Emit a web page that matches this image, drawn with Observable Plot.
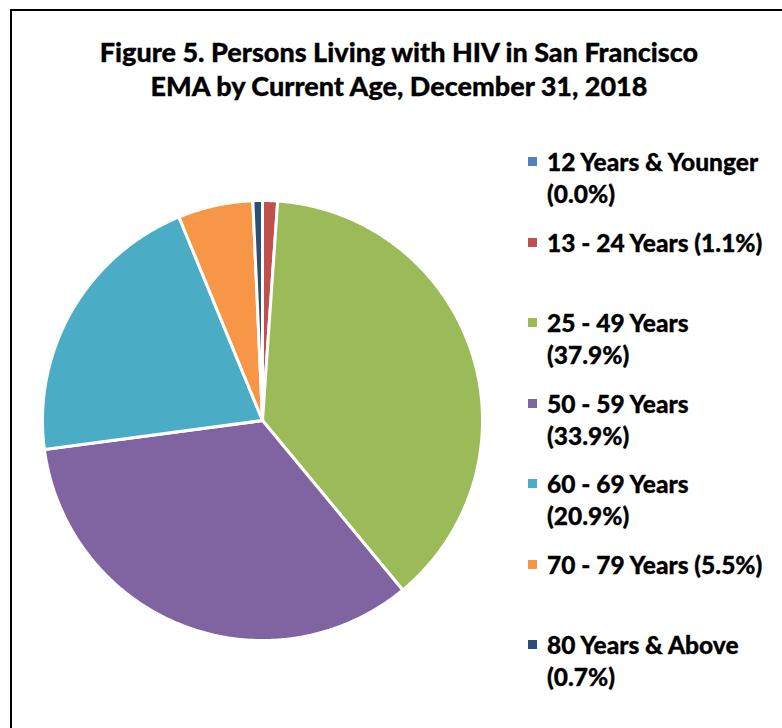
<!DOCTYPE html>
<html>
<head>
<meta charset="utf-8">
<script src="https://cdn.jsdelivr.net/npm/d3@7"></script>
<script src="https://cdn.jsdelivr.net/npm/@observablehq/plot@0.6"></script>
<style>
  body { margin: 0; background: #fff; }
  #wrap { position: relative; width: 782px; height: 728px; overflow: hidden; background: #fff; font-family: Lato, "Open Sans", sans-serif; color: #000; }
  #chart { position: absolute; left: 0; top: 0; }
  #frame { position: absolute; left: 10px; top: 9px; width: 820px; height: 820px; border: 2px solid #000; box-sizing: border-box; pointer-events: none; }
  #title { position: absolute; left: 0; top: 35px; width: 798px; text-align: center; font-weight: 900; font-size: 27px; line-height: 34px; -webkit-text-stroke: 0.3px #000; }
  #legend { position: absolute; left: 528px; top: 146px; }
  .item { position: relative; height: 80.5px; padding-left: 19px; font-weight: 900; font-size: 24.5px; line-height: 32px; white-space: nowrap; -webkit-text-stroke: 0.3px #000; }
  .sw { position: absolute; left: 0; top: 11px; width: 9px; height: 9px; }
</style>
</head>
<body>
<div id="wrap">
  <div id="chart"></div>
  <div id="title">Figure 5. Persons Living with HIV in San Francisco<br>EMA by Current Age, December 31, 2018</div>
  <div id="legend"></div>
  <div id="frame"></div>
</div>
<script>
const categories = ["12 Years & Younger", "13 - 24 Years", "25 - 49 Years", "50 - 59 Years", "60 - 69 Years", "70 - 79 Years", "80 Years & Above"];
const values = [0.0, 1.1, 37.9, 33.9, 20.9, 5.5, 0.7];
const legendLabels = [["12 Years & Younger", "(0.0%)"], ["13 - 24 Years (1.1%)"], ["25 - 49 Years", "(37.9%)"], ["50 - 59 Years", "(33.9%)"], ["60 - 69 Years", "(20.9%)"], ["70 - 79 Years (5.5%)"], ["80 Years & Above", "(0.7%)"]];
const colors = ["#4F81BD", "#C0504D", "#9BBB59", "#8064A2", "#4BACC6", "#F79646", "#2C4D75"];

const data = categories.map((c, i) => ({category: c, value: values[i]}));
const arcs = d3.pie().sort(null).value(d => d.value)(data);

// Build slice outlines in unit-circle coordinates from pie angles
const pts = [];
arcs.forEach(a => {
  const key = a.data.category;
  pts.push({key, x: 0, y: 0});
  const n = Math.max(2, Math.ceil((a.endAngle - a.startAngle) / (Math.PI / 360)));
  for (let k = 0; k <= n; k++) {
    const t = a.startAngle + (a.endAngle - a.startAngle) * k / n;
    pts.push({key, x: Math.sin(t), y: Math.cos(t)});
  }
  pts.push({key, x: 0, y: 0});
});

const chart = Plot.plot({
  width: 782,
  height: 728,
  marginLeft: 42,
  marginRight: 300,
  marginTop: 200,
  marginBottom: 88,
  x: {domain: [-1, 1], axis: null},
  y: {domain: [-1, 1], axis: null},
  color: {domain: categories, range: colors},
  style: {background: "transparent", overflow: "visible"},
  marks: [
    Plot.line(pts, {x: "x", y: "y", z: "key", fill: "key", stroke: "white", strokeWidth: 3, strokeLinejoin: "miter", curve: "linear"})
  ]
});
document.getElementById("chart").appendChild(chart);

const legend = document.getElementById("legend");
categories.forEach((c, i) => {
  const item = document.createElement("div");
  item.className = "item";
  const sw = document.createElement("span");
  sw.className = "sw";
  sw.style.background = chart.scale("color").apply(c);
  item.appendChild(sw);
  legendLabels[i].forEach((line, j) => {
    if (j) item.appendChild(document.createElement("br"));
    item.appendChild(document.createTextNode(line));
  });
  legend.appendChild(item);
});
</script>
</body>
</html>
